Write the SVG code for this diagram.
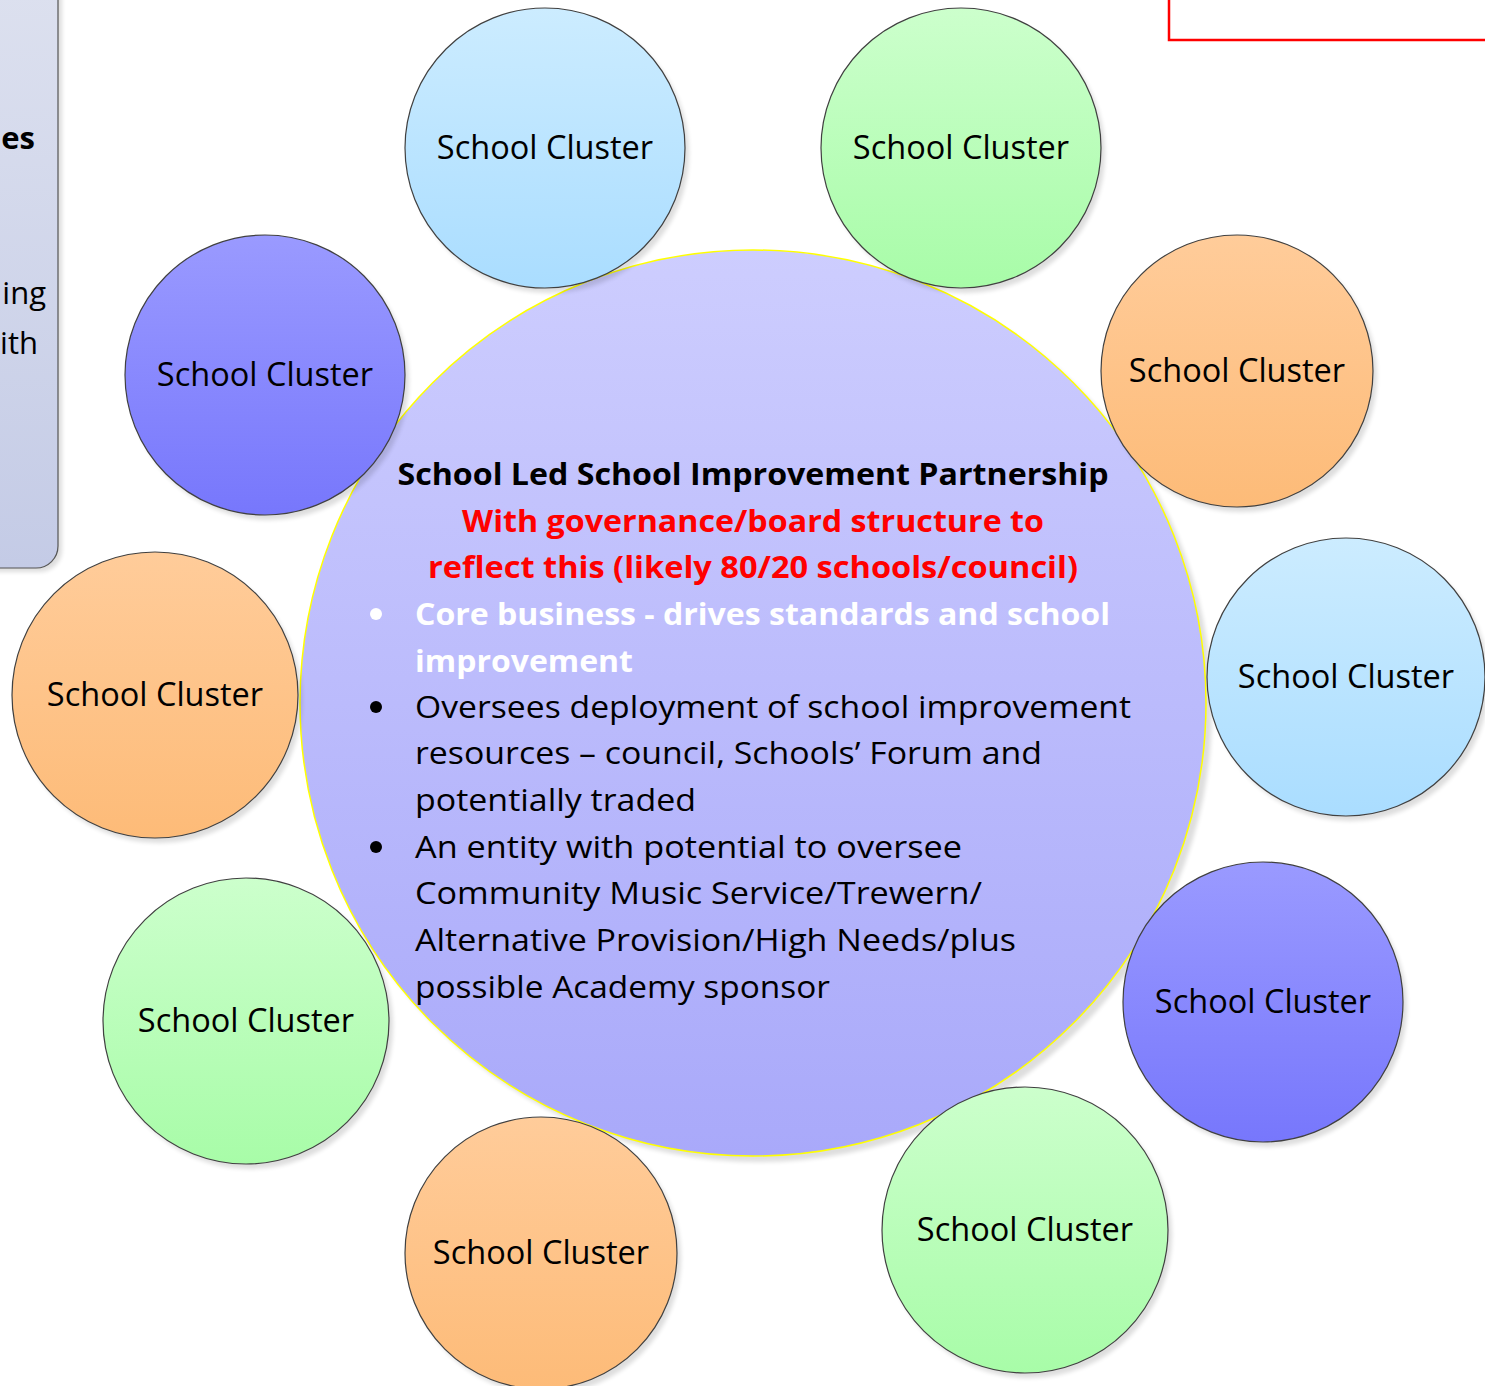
<svg xmlns="http://www.w3.org/2000/svg" width="1485" height="1386" viewBox="0 0 1485 1386">
<defs>
<linearGradient id="gBlue" x1="0" y1="0" x2="0" y2="1"><stop offset="0" stop-color="#CCECFF"/><stop offset="1" stop-color="#AADDFF"/></linearGradient>
<linearGradient id="gGreen" x1="0" y1="0" x2="0" y2="1"><stop offset="0" stop-color="#CCFFCC"/><stop offset="1" stop-color="#A8FCA8"/></linearGradient>
<linearGradient id="gOrange" x1="0" y1="0" x2="0" y2="1"><stop offset="0" stop-color="#FFCC9A"/><stop offset="1" stop-color="#FDBB78"/></linearGradient>
<linearGradient id="gPurple" x1="0" y1="0" x2="0" y2="1"><stop offset="0" stop-color="#9A9AFF"/><stop offset="1" stop-color="#7777FC"/></linearGradient>
<linearGradient id="gCenter" x1="0" y1="0" x2="0" y2="1"><stop offset="0" stop-color="#CDCDFE"/><stop offset="1" stop-color="#A9A9FA"/></linearGradient>
<linearGradient id="gPanel" x1="0" y1="0" x2="0" y2="1"><stop offset="0" stop-color="#DDE1EF"/><stop offset="1" stop-color="#C4CBE6"/></linearGradient>
<filter id="blur" x="-10%" y="-10%" width="120%" height="120%"><feGaussianBlur stdDeviation="2"/></filter>
</defs>
<style>
.sh{fill:#000;opacity:0.13;filter:url(#blur)}
.node{stroke:#404040;stroke-width:1.2}
.lbl{font-family:"Open Sans","Liberation Sans",sans-serif;font-size:32.5px;fill:#000;text-anchor:middle}
.ct{font-family:"Open Sans","Liberation Sans",sans-serif;font-size:31px}
.b{font-weight:bold}
</style>
<rect width="1485" height="1386" fill="#fff"/>
<g id="side-panel">
<rect x="-40" y="-30" width="102" height="602" rx="22" class="sh"/>
<rect x="-40" y="-30" width="98" height="598" rx="22" fill="url(#gPanel)" stroke="#555" stroke-width="1.2"/>
<text class="ct b" x="35" y="149" text-anchor="end" fill="#000">es</text>
<text class="ct" x="46" y="304" text-anchor="end" fill="#000">ing</text>
<text class="ct" x="38" y="354" text-anchor="end" fill="#000">ith</text>
</g>
<g id="red-box">
<rect x="1169" y="-10" width="330" height="50" fill="none" stroke="#FF0000" stroke-width="2.5"/>
</g>
<g id="center">
<circle cx="759" cy="709" r="453" class="sh"/>
<circle cx="753" cy="703" r="453" fill="url(#gCenter)" stroke="#FFFF00" stroke-width="1.5"/>
<text class="ct b" x="753" y="485" text-anchor="middle" fill="#000" textLength="711" lengthAdjust="spacingAndGlyphs">School Led School Improvement Partnership</text>
<text class="ct b" x="753" y="532" text-anchor="middle" fill="#FF0000" textLength="582" lengthAdjust="spacingAndGlyphs">With governance/board structure to</text>
<text class="ct b" x="753" y="578" text-anchor="middle" fill="#FF0000" textLength="650" lengthAdjust="spacingAndGlyphs">reflect this (likely 80/20 schools/council)</text>
<g fill="#FFFFFF">
<circle cx="376" cy="614" r="6"/>
<text class="ct b" x="415" y="625" textLength="695" lengthAdjust="spacingAndGlyphs">Core business - drives standards and school</text>
<text class="ct b" x="415" y="672" textLength="218" lengthAdjust="spacingAndGlyphs">improvement</text>
</g>
<g fill="#000">
<circle cx="376" cy="707" r="6"/>
<text class="ct" x="415" y="718" textLength="716" lengthAdjust="spacingAndGlyphs">Oversees deployment of school improvement</text>
<text class="ct" x="415" y="764" textLength="627" lengthAdjust="spacingAndGlyphs">resources – council, Schools’ Forum and</text>
<text class="ct" x="415" y="811" textLength="281" lengthAdjust="spacingAndGlyphs">potentially traded</text>
<circle cx="376" cy="847" r="6"/>
<text class="ct" x="415" y="858" textLength="547" lengthAdjust="spacingAndGlyphs">An entity with potential to oversee</text>
<text class="ct" x="415" y="904" textLength="567" lengthAdjust="spacingAndGlyphs">Community Music Service/Trewern/</text>
<text class="ct" x="415" y="951" textLength="601" lengthAdjust="spacingAndGlyphs">Alternative Provision/High Needs/plus</text>
<text class="ct" x="415" y="998" textLength="415" lengthAdjust="spacingAndGlyphs">possible Academy sponsor</text>
</g>
</g>
<g id="cluster-1"><circle cx="549" cy="153" r="140" class="sh"/><circle cx="545" cy="148" r="140" fill="url(#gBlue)" class="node"/><text class="lbl" x="545" y="159">School Cluster</text></g>
<g id="cluster-2"><circle cx="965" cy="153" r="140" class="sh"/><circle cx="961" cy="148" r="140" fill="url(#gGreen)" class="node"/><text class="lbl" x="961" y="159">School Cluster</text></g>
<g id="cluster-3"><circle cx="1241" cy="376" r="136" class="sh"/><circle cx="1237" cy="371" r="136" fill="url(#gOrange)" class="node"/><text class="lbl" x="1237" y="382">School Cluster</text></g>
<g id="cluster-4"><circle cx="1350" cy="682" r="139" class="sh"/><circle cx="1346" cy="677" r="139" fill="url(#gBlue)" class="node"/><text class="lbl" x="1346" y="688">School Cluster</text></g>
<g id="cluster-5"><circle cx="1267" cy="1007" r="140" class="sh"/><circle cx="1263" cy="1002" r="140" fill="url(#gPurple)" class="node"/><text class="lbl" x="1263" y="1013">School Cluster</text></g>
<g id="cluster-6"><circle cx="1029" cy="1235" r="143" class="sh"/><circle cx="1025" cy="1230" r="143" fill="url(#gGreen)" class="node"/><text class="lbl" x="1025" y="1241">School Cluster</text></g>
<g id="cluster-7"><circle cx="545" cy="1258" r="136" class="sh"/><circle cx="541" cy="1253" r="136" fill="url(#gOrange)" class="node"/><text class="lbl" x="541" y="1264">School Cluster</text></g>
<g id="cluster-8"><circle cx="250" cy="1026" r="143" class="sh"/><circle cx="246" cy="1021" r="143" fill="url(#gGreen)" class="node"/><text class="lbl" x="246" y="1032">School Cluster</text></g>
<g id="cluster-9"><circle cx="159" cy="700" r="143" class="sh"/><circle cx="155" cy="695" r="143" fill="url(#gOrange)" class="node"/><text class="lbl" x="155" y="706">School Cluster</text></g>
<g id="cluster-10"><circle cx="269" cy="380" r="140" class="sh"/><circle cx="265" cy="375" r="140" fill="url(#gPurple)" class="node"/><text class="lbl" x="265" y="386">School Cluster</text></g>
<g id="connectors"/>
</svg>
